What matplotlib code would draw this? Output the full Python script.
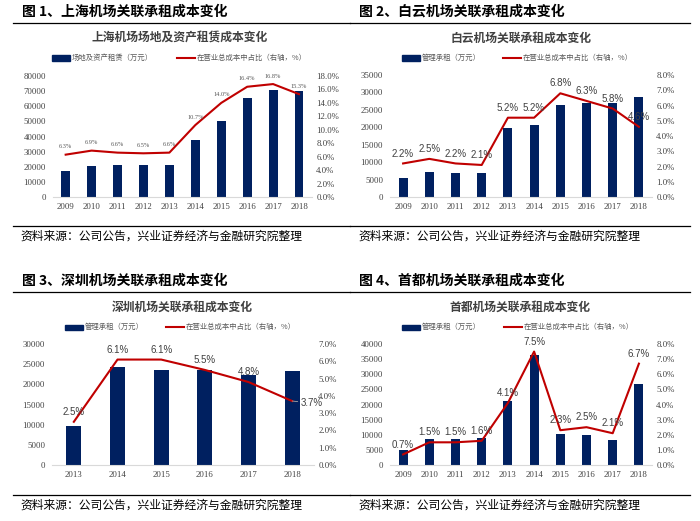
import matplotlib
matplotlib.use("Agg")
import matplotlib.pyplot as plt
from matplotlib.lines import Line2D
from matplotlib.patches import Rectangle
from matplotlib.ticker import FuncFormatter, MultipleLocator

plt.rcParams["font.family"] = ["Noto Sans CJK SC", "DejaVu Sans"]

W, H = 700, 521
NAVY = "#002060"
RED = "#C00000"
GRAY = "#404040"
NUM_FONT = "Liberation Serif"

# ---- data ----
years_10 = ["2009", "2010", "2011", "2012", "2013", "2014", "2015", "2016", "2017", "2018"]
years_6 = ["2013", "2014", "2015", "2016", "2017", "2018"]

sh_rent = [17200, 20500, 21400, 21400, 21400, 38000, 50200, 65200, 70500, 70000]
sh_pct = [6.3, 6.9, 6.6, 6.5, 6.6, 10.7, 14.0, 16.4, 16.8, 15.3]

by_rent = [5500, 7300, 7000, 7000, 19800, 20600, 26300, 26900, 27000, 28800]
by_pct = [2.2, 2.5, 2.2, 2.1, 5.2, 5.2, 6.8, 6.3, 5.8, 4.6]

sz_rent = [9600, 24200, 23600, 23500, 22300, 23200]
sz_pct = [2.5, 6.1, 6.1, 5.5, 4.8, 3.7]

sd_rent = [5000, 8700, 8700, 8900, 21100, 36200, 10400, 10000, 8400, 26900]
sd_pct = [0.7, 1.5, 1.5, 1.6, 4.1, 7.5, 2.3, 2.5, 2.1, 6.7]

fig = plt.figure(figsize=(W / 100, H / 100), dpi=100)


def fx(x):
    return x / W


def fy(y):
    return 1 - y / H


def hline(y, x0, x1):
    fig.add_artist(Line2D([fx(x0), fx(x1)], [fy(y), fy(y)], color="black", lw=0.9))


def panel(heading, title, bar_name, years, rent, pct, box, ymax, ystep, pmax,
          ox, oy, tx, leg, label_small=False, last_side=False):
    x0, x1, y0, y1 = box
    left = ox == 0
    # heading, rules, source
    fig.text(fx(22 if left else 359), fy(oy + 12), heading, fontsize=10,
             fontweight="bold", va="center", ha="left")
    hline(oy + 22.5, 13 if left else 350, 350 if left else 690)
    hline(oy + 226, 13 if left else 350, 350 if left else 690)
    fig.text(fx(20 if left else 358), fy(oy + 236),
             "资料来源：公司公告，兴业证券经济与金融研究院整理",
             fontsize=8.5, va="center", ha="left")
    # chart title
    fig.text(fx(tx), fy(oy + 38), title, fontsize=8.5, fontweight="bold",
             color="#404040", va="center", ha="center")
    # legend
    ly = oy + 58
    lx, rx = leg
    fig.add_artist(Rectangle((fx(lx), fy(ly + 2.5)), fx(18), 5 / H, color=NAVY))
    fig.text(fx(lx + 20), fy(ly), bar_name, fontsize=5.3, color="#595959",
             va="center", ha="left")
    fig.add_artist(Line2D([fx(rx), fx(rx + 18)], [fy(ly), fy(ly)], color=RED, lw=1.5))
    fig.text(fx(rx + 20), fy(ly), "在营业总成本中占比（右轴，%）", fontsize=5.3,
             color="#595959", va="center", ha="left")

    ax = fig.add_axes([fx(x0), fy(y1), fx(x1 - x0), (y1 - y0) / H])
    xs = list(range(len(years)))
    ax.bar(xs, rent, width=0.34, color=NAVY, zorder=2)
    ax.set_xlim(-0.5, len(years) - 0.5)
    ax.set_ylim(0, ymax)
    ax.yaxis.set_major_locator(MultipleLocator(ystep))
    ax.set_xticks(xs)
    ax.set_xticklabels(years)
    for s in ["top", "right", "left"]:
        ax.spines[s].set_visible(False)
    ax.spines["bottom"].set_color("#D9D9D9")
    ax.tick_params(length=0, labelsize=6.3, colors=GRAY, pad=4)
    ax.tick_params(axis="y", pad=5)
    for lab in ax.get_xticklabels() + ax.get_yticklabels():
        lab.set_fontfamily(NUM_FONT)

    ax2 = ax.twinx()
    ax2.plot(xs, pct, color=RED, lw=1.5, zorder=3)
    ax2.set_ylim(0, pmax)
    ax2.yaxis.set_major_locator(MultipleLocator(2 if pmax > 10 else 1))
    ax2.yaxis.set_major_formatter(FuncFormatter(lambda v, p: f"{v:.1f}%"))
    for s in ["top", "right", "left", "bottom"]:
        ax2.spines[s].set_visible(False)
    ax2.tick_params(length=0, labelsize=6.3, colors=GRAY, pad=3)
    for lab in ax2.get_yticklabels():
        lab.set_fontfamily(NUM_FONT)

    for i, v in enumerate(pct):
        txt = f"{v:.1f}%"
        if last_side and i == len(pct) - 1:
            ax2.annotate(txt, (i, v), xytext=(6, -1.5), textcoords="offset points",
                         ha="left", va="center", fontsize=7, color=GRAY,
                         family="Liberation Sans",
                         arrowprops=dict(arrowstyle="-", color="#A6A6A6", lw=0.6,
                                         shrinkA=0, shrinkB=0))
        elif label_small:
            ax2.annotate(txt, (i, v), xytext=(0, 4), textcoords="offset points",
                         ha="center", va="bottom", fontsize=4.6, color="#595959",
                         family=NUM_FONT)
        else:
            ax2.annotate(txt, (i, v), xytext=(0, 3.5), textcoords="offset points",
                         ha="center", va="bottom", fontsize=7, color=GRAY,
                         family="Liberation Sans")


panel("图 1、上海机场关联承租成本变化", "上海机场场地及资产租赁成本变化",
      "场地及资产租赁（万元）", years_10, sh_rent, sh_pct,
      (52.7, 312, 76, 197), 80000, 10000, 18, 0, 0, 180, (52, 177),
      label_small=True)
panel("图 2、白云机场关联承租成本变化", "白云机场关联承租成本变化",
      "管理承租（万元）", years_10, by_rent, by_pct,
      (390, 652, 75, 197), 35000, 5000, 8, 350, 0, 521, (402, 503))
panel("图 3、深圳机场关联承租成本变化", "深圳机场关联承租成本变化",
      "管理承租（万元）", years_6, sz_rent, sz_pct,
      (52, 314, 344, 465), 30000, 5000, 7, 0, 269, 182, (65, 166),
      last_side=True)
panel("图 4、首都机场关联承租成本变化", "首都机场关联承租成本变化",
      "管理承租（万元）", years_10, sd_rent, sd_pct,
      (390, 652, 344, 465), 40000, 5000, 8, 350, 269, 520, (402, 504))

fig.savefig("out.png", dpi=100)
